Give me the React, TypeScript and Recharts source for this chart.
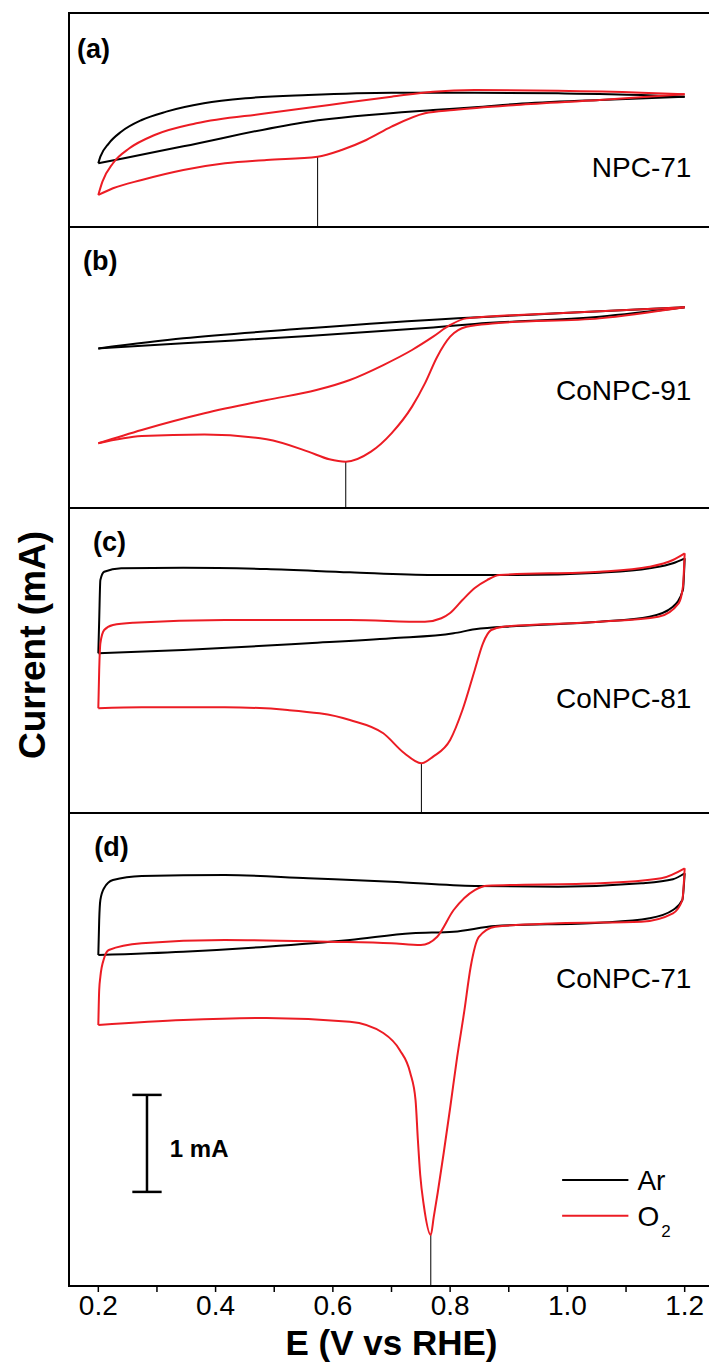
import React from 'react';
import { LineChart, Line, XAxis, YAxis, ReferenceLine, ReferenceArea, ReferenceDot } from 'recharts';

type Pt = [number, number];

// ---------- data ----------
const X_DOMAIN: [number, number] = [0.15, 1.25];
const X_TICKS = [0.2, 0.3, 0.4, 0.5, 0.6, 0.7, 0.8, 0.9, 1.0, 1.1, 1.2];

const PANEL_LABELS = ['(a)', '(b)', '(c)', '(d)'];
const SAMPLE_NAMES = ['NPC-71', 'CoNPC-91', 'CoNPC-81', 'CoNPC-71'];
const SERIES_NAMES = ['Ar', 'O'];

// current ranges (mA) shown in each panel
const Y_DOMAINS: [number, number][] = [[-1.0, 1.206], [-1.835, 1.062], [-1.99, 1.155], [-3.67, 1.206]];

// ORR peak potentials (V) and currents (mA)
const PEAK_E = [0.574, 0.622, 0.751, 0.767];
const PEAK_I = [-0.275, -1.357, -1.477, -3.144];

// scale bar: 1 mA
const SCALE_E = 0.283;
const SCALE_I: [number, number] = [-1.7, -2.7];

// (a) NPC-71
const A_AR_FWD: Pt[] = [[0.2,-0.343],[0.2035,-0.275],[0.218,-0.137],[0.239,-0.018],[0.274,0.103],[0.316,0.189],[0.38,0.275],[0.452,0.327],[0.558,0.361],[0.7,0.385],[0.842,0.385],[0.984,0.378],[1.126,0.361],[1.2,0.343]];
const A_AR_REV: Pt[] = [[1.2,0.343],[1.055,0.309],[0.913,0.268],[0.842,0.234],[0.771,0.206],[0.558,0.086],[0.345,-0.168],[0.246,-0.289],[0.2,-0.343]];
const A_O2_FWD: Pt[] = [[0.2,-0.67],[0.207,-0.533],[0.225,-0.343],[0.253,-0.189],[0.296,-0.052],[0.367,0.069],[0.487,0.172],[0.594,0.258],[0.7,0.343],[0.771,0.395],[0.842,0.412],[0.984,0.405],[1.126,0.385],[1.2,0.368]];
const A_O2_REV: Pt[] = [[1.2,0.368],[1.055,0.309],[0.913,0.258],[0.806,0.206],[0.757,0.172],[0.7,0.034],[0.657,-0.103],[0.615,-0.206],[0.574,-0.275],[0.487,-0.309],[0.416,-0.343],[0.345,-0.412],[0.274,-0.515],[0.225,-0.601],[0.2,-0.67]];

// (b) CoNPC-91
const B_AR_FWD: Pt[] = [[0.2,-0.19],[0.345,-0.086],[0.558,0.017],[0.813,0.12],[0.984,0.172],[1.2,0.234]];
const B_AR_REV: Pt[] = [[1.2,0.234],[1.055,0.137],[0.842,0.062],[0.771,0.027],[0.558,-0.062],[0.345,-0.137],[0.2,-0.19]];
const B_O2_FWD: Pt[] = [[0.2,-1.168],[0.274,-1.031],[0.381,-0.859],[0.487,-0.722],[0.572,-0.619],[0.629,-0.515],[0.686,-0.361],[0.735,-0.206],[0.771,-0.069],[0.8,0.052],[0.828,0.12],[0.984,0.172],[1.2,0.234]];
const B_O2_REV: Pt[] = [[1.2,0.234],[1.055,0.12],[0.877,0.069],[0.828,0.034],[0.8,-0.069],[0.778,-0.275],[0.757,-0.55],[0.735,-0.79],[0.7,-1.065],[0.665,-1.254],[0.622,-1.357],[0.594,-1.333],[0.558,-1.254],[0.487,-1.127],[0.381,-1.076],[0.274,-1.093],[0.2,-1.168]];

// (c) CoNPC-81
const C_AR_FWD: Pt[] = [[0.2,-0.343],[0.2015,0],[0.2035,0.412],[0.21,0.498],[0.239,0.533],[0.345,0.539],[0.487,0.526],[0.629,0.492],[0.771,0.464],[0.913,0.464],[1.055,0.488],[1.14,0.533],[1.18,0.585],[1.2,0.636]];
const C_AR_REV: Pt[] = [[1.2,0.636],[1.197,0.309],[1.18,0.137],[1.14,0.034],[1.055,-0.018],[0.913,-0.062],[0.842,-0.096],[0.806,-0.137],[0.7,-0.189],[0.558,-0.24],[0.345,-0.309],[0.2,-0.343]];
const C_O2_FWD: Pt[] = [[0.2,-0.91],[0.2015,-0.515],[0.2035,-0.24],[0.21,-0.103],[0.225,-0.052],[0.26,-0.028],[0.416,0],[0.629,0],[0.757,-0.018],[0.785,0.018],[0.8,0.072],[0.821,0.206],[0.842,0.33],[0.863,0.412],[0.884,0.464],[1.055,0.498],[1.14,0.549],[1.18,0.619],[1.2,0.688]];
const C_O2_REV: Pt[] = [[1.2,0.688],[1.197,0.343],[1.19,0.175],[1.155,0.034],[1.055,-0.018],[0.891,-0.069],[0.87,-0.103],[0.856,-0.24],[0.842,-0.515],[0.821,-0.928],[0.8,-1.237],[0.771,-1.409],[0.751,-1.477],[0.722,-1.374],[0.686,-1.168],[0.629,-1.031],[0.523,-0.928],[0.416,-0.9],[0.274,-0.9],[0.2,-0.91]];

// (d) CoNPC-71
const D_AR_FWD: Pt[] = [[0.2,-0.258],[0.2015,0.103],[0.2035,0.309],[0.21,0.433],[0.225,0.515],[0.274,0.557],[0.416,0.567],[0.558,0.533],[0.7,0.498],[0.842,0.454],[0.984,0.446],[1.126,0.481],[1.18,0.523],[1.2,0.585]];
const D_AR_REV: Pt[] = [[1.2,0.585],[1.196,0.309],[1.18,0.206],[1.14,0.121],[1.055,0.075],[0.877,0.041],[0.806,-0.018],[0.735,-0.034],[0.629,-0.103],[0.487,-0.172],[0.345,-0.224],[0.2,-0.258]];
const D_O2_FWD: Pt[] = [[0.2,-0.979],[0.2015,-0.619],[0.2035,-0.481],[0.21,-0.289],[0.218,-0.206],[0.274,-0.137],[0.416,-0.103],[0.594,-0.121],[0.7,-0.137],[0.75,-0.155],[0.778,-0.069],[0.806,0.206],[0.842,0.412],[0.863,0.457],[1.055,0.481],[1.16,0.533],[1.2,0.636]];
const D_O2_REV: Pt[] = [[1.2,0.636],[1.196,0.309],[1.18,0.172],[1.126,0.086],[0.984,0.069],[0.877,0.034],[0.849,-0.072],[0.835,-0.381],[0.824,-0.842],[0.812,-1.309],[0.8,-1.835],[0.789,-2.299],[0.779,-2.701],[0.772,-2.96],[0.767,-3.144],[0.755,-2.835],[0.749,-2.526],[0.745,-2.165],[0.741,-1.753],[0.732,-1.474],[0.714,-1.237],[0.686,-1.062],[0.629,-0.945],[0.487,-0.907],[0.345,-0.928],[0.2,-0.979]];

const AR_CURVES: Pt[][][] = [[A_AR_FWD, A_AR_REV], [B_AR_FWD, B_AR_REV], [C_AR_FWD, C_AR_REV], [D_AR_FWD, D_AR_REV]];
const O2_CURVES: Pt[][][] = [[A_O2_FWD, A_O2_REV], [B_O2_FWD, B_O2_REV], [C_O2_FWD, C_O2_REV], [D_O2_FWD, D_O2_REV]];

// ---------- layout ----------
const W = 720;
const ML = 69;
const PLOT_W = 645;
const PANEL_TOP = [13, 227, 508, 813];
const PANEL_H = [214, 281, 305, 473];
const AXIS_H = 78;
const PAD = 4;
const FONT = '"Liberation Sans", Arial, Helvetica, sans-serif';
const RED = '#ec1c24';
const BLACK = '#000000';

// label anchor points in data units
const PANEL_LABEL_POS: Pt[] = [[0.1637, 0.845], [0.174, 0.722], [0.191, 0.807], [0.193, 0.859]];
const SAMPLE_LABEL_POS: Pt[] = [[1.22, -0.381], [1.22, -0.619], [1.22, -0.804], [1.22, -0.495]];
const LEGEND_X: [number, number] = [0.991, 1.104];
const LEGEND_Y = [-2.577, -2.946];

const toObj = (arr: Pt[]) => arr.map(([x, y]) => ({ x, y }));

const O2Label = (props: any) => {
  const vb = props.viewBox || {};
  return (
    <text x={vb.x + 9} y={vb.y} dy="0.36em" fontSize={28} fill="#000" fontFamily={FONT}>
      <tspan>{SERIES_NAMES[1]}</tspan>
      <tspan fontSize={17} dx={2} dy={11}>2</tspan>
    </text>
  );
};

function Panel({ i }: { i: number }) {
  const last = i === 3;
  const h = PANEL_H[i] + PAD + (last ? AXIS_H : PAD);
  const [ymin, ymax] = Y_DOMAINS[i];
  return (
    <div style={{ position: 'absolute', left: 0, top: PANEL_TOP[i] - PAD }}>
      <LineChart width={W} height={h} margin={{ top: PAD, right: W - ML - PLOT_W, bottom: last ? 0 : PAD, left: ML }}>
        <XAxis
          type="number"
          dataKey="x"
          domain={X_DOMAIN}
          allowDataOverflow
          ticks={X_TICKS}
          interval={0}
          hide={!last}
          height={AXIS_H}
          axisLine={{ stroke: '#000', strokeWidth: 2 }}
          tickLine={{ stroke: '#000', strokeWidth: 1.5 }}
          tickSize={6}
          tickMargin={3}
          tick={{ fontSize: 28, fill: '#000', fontFamily: FONT }}
          tickFormatter={(v: number) => (Math.round(v * 10) % 2 === 0 ? v.toFixed(1) : '')}
          label={{ value: 'E (V vs RHE)', position: 'insideBottom', offset: 9, fontSize: 35, fontWeight: 'bold', fill: '#000', fontFamily: FONT }}
        />
        <YAxis type="number" dataKey="y" domain={[ymin, ymax]} allowDataOverflow hide />
        <ReferenceArea x1={X_DOMAIN[0]} x2={X_DOMAIN[1]} y1={ymin} y2={ymax} fill="none" fillOpacity={0} stroke="#000" strokeWidth={2} ifOverflow="visible" />
        <ReferenceLine segment={[{ x: PEAK_E[i], y: PEAK_I[i] }, { x: PEAK_E[i], y: ymin }]} stroke="#000" strokeWidth={1} ifOverflow="visible" />
        {AR_CURVES[i].map((d, k) => (
          <Line key={'ar' + k} data={toObj(d)} dataKey="y" type="monotone" stroke={BLACK} strokeWidth={2} dot={false} activeDot={false} isAnimationActive={false} />
        ))}
        {O2_CURVES[i].map((d, k) => (
          <Line key={'o2' + k} data={toObj(d)} dataKey="y" type="monotone" stroke={RED} strokeWidth={2} dot={false} activeDot={false} isAnimationActive={false} />
        ))}
        <ReferenceDot x={PANEL_LABEL_POS[i][0]} y={PANEL_LABEL_POS[i][1]} r={0} fill="none" stroke="none"
          label={{ value: PANEL_LABELS[i], position: 'right', offset: 0, fontSize: 27, fontWeight: 'bold', fill: '#000', fontFamily: FONT }} />
        <ReferenceDot x={SAMPLE_LABEL_POS[i][0]} y={SAMPLE_LABEL_POS[i][1]} r={0} fill="none" stroke="none"
          label={{ value: SAMPLE_NAMES[i], position: 'left', offset: 5, fontSize: 28, fill: '#000', fontFamily: FONT }} />
        {last && (
          <>
            <ReferenceLine segment={[{ x: SCALE_E, y: SCALE_I[0] }, { x: SCALE_E, y: SCALE_I[1] }]} stroke="#000" strokeWidth={2.5} ifOverflow="visible" />
            <ReferenceLine segment={[{ x: SCALE_E - 0.025, y: SCALE_I[0] }, { x: SCALE_E + 0.025, y: SCALE_I[0] }]} stroke="#000" strokeWidth={2.5} ifOverflow="visible" />
            <ReferenceLine segment={[{ x: SCALE_E - 0.025, y: SCALE_I[1] }, { x: SCALE_E + 0.025, y: SCALE_I[1] }]} stroke="#000" strokeWidth={2.5} ifOverflow="visible" />
            <ReferenceDot x={SCALE_E + 0.039} y={(SCALE_I[0] + SCALE_I[1]) / 2 - 0.05} r={0} fill="none" stroke="none"
              label={{ value: '1 mA', position: 'right', offset: 0, fontSize: 24, fontWeight: 'bold', fill: '#000', fontFamily: FONT }} />
            <ReferenceLine segment={[{ x: LEGEND_X[0], y: LEGEND_Y[0] }, { x: LEGEND_X[1], y: LEGEND_Y[0] }]} stroke={BLACK} strokeWidth={2} ifOverflow="visible" />
            <ReferenceLine segment={[{ x: LEGEND_X[0], y: LEGEND_Y[1] }, { x: LEGEND_X[1], y: LEGEND_Y[1] }]} stroke={RED} strokeWidth={2} ifOverflow="visible" />
            <ReferenceDot x={LEGEND_X[1]} y={LEGEND_Y[0]} r={0} fill="none" stroke="none"
              label={{ value: SERIES_NAMES[0], position: 'right', offset: 9, fontSize: 28, fill: '#000', fontFamily: FONT }} />
            <ReferenceDot x={LEGEND_X[1]} y={LEGEND_Y[1]} r={0} fill="none" stroke="none" label={O2Label} />
          </>
        )}
      </LineChart>
    </div>
  );
}

export default function App() {
  return (
    <div style={{ position: 'absolute', left: 0, top: 0, width: 709, height: 1364, overflow: 'hidden', background: '#fff', fontFamily: FONT }}>
      {[0, 1, 2, 3].map((i) => (
        <Panel key={i} i={i} />
      ))}
      <svg width={80} height={1364} style={{ position: 'absolute', left: 0, top: 0 }}>
        <text x={32} y={645} transform="rotate(-90 32 645)" textAnchor="middle" dominantBaseline="central"
          fontSize={37} fontWeight="bold" fill="#000" fontFamily={FONT}>
          Current (mA)
        </text>
      </svg>
    </div>
  );
}
